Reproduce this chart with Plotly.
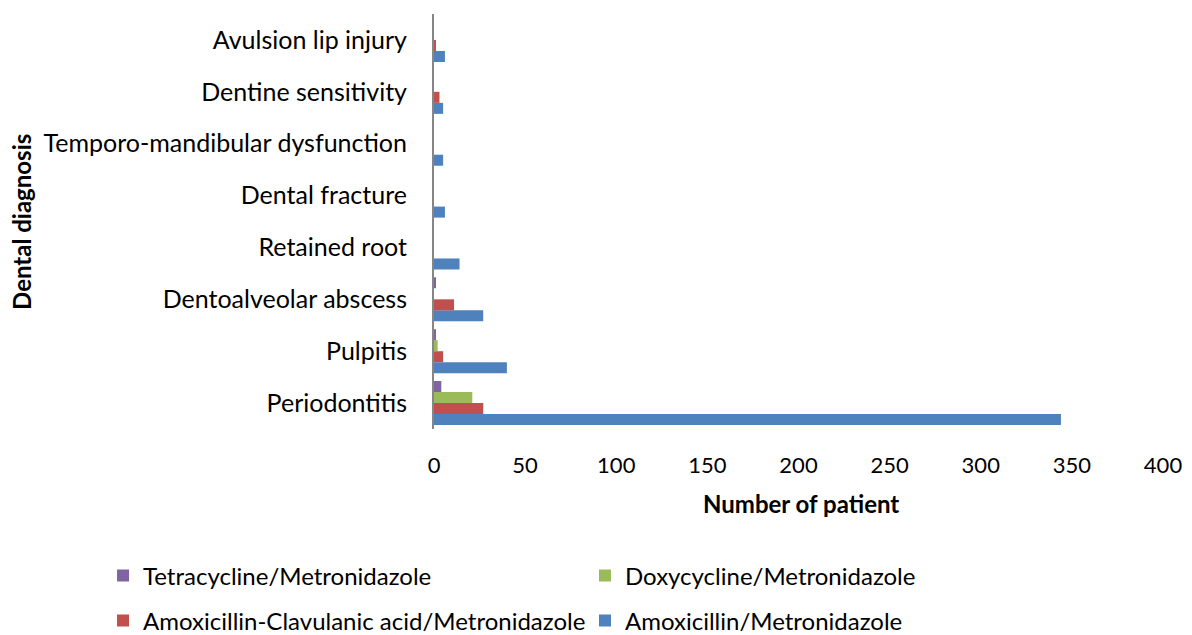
import plotly.graph_objects as go

categories = ["Periodontitis", "Pulpitis", "Dentoalveolar abscess", "Retained root",
              "Dental fracture", "Temporo-mandibular dysfunction", "Dentine sensitivity",
              "Avulsion lip injury"]
amoxicillin = [344, 40, 27, 14, 6, 5, 5, 6]
amox_clav = [27, 5, 11, 0, 0, 0, 3, 1]
doxycycline = [21, 2, 0, 0, 0, 0, 0, 0]
tetracycline = [4, 1, 1, 0, 0, 0, 0, 0]
x_ticks = [0, 50, 100, 150, 200, 250, 300, 350, 400]

FONT = "Lato"
fig = go.Figure()
series = [
    ("Amoxicillin/Metronidazole", amoxicillin, "#4F81BD", "legend5"),
    ("Amoxicillin-Clavulanic acid/Metronidazole", amox_clav, "#C0504D", "legend4"),
    ("Doxycycline/Metronidazole", doxycycline, "#9BBB59", "legend3"),
    ("Tetracycline/Metronidazole", tetracycline, "#8064A2", "legend2"),
]
for name, vals, col, lg in series:
    fig.add_trace(go.Bar(y=categories, x=vals, name=name, orientation="h",
                         marker=dict(color=col, line=dict(width=0)), legend=lg))

def leg(x, y):
    return dict(orientation="h", x=x, xanchor="left", y=y, yanchor="middle",
                font=dict(size=24), itemwidth=30, bgcolor="rgba(0,0,0,0)")

fig.update_layout(
    width=1192, height=635,
    margin=dict(l=434, r=29, t=14, b=206, autoexpand=False),
    paper_bgcolor="white", plot_bgcolor="white",
    barmode="group", bargap=0.15, bargroupgap=0,
    font=dict(family=FONT, size=24, color="black"),
    showlegend=True,
    xaxis=dict(range=[0, 400], tickvals=x_ticks, showgrid=False, zeroline=False,
               showline=False, ticklabelstandoff=21, automargin=False,
               tickfont=dict(size=22)),
    yaxis=dict(showgrid=False, zeroline=False, showline=True, linecolor="#868686",
               linewidth=2, ticks="", ticklabelstandoff=20, categoryorder="array",
               categoryarray=categories, automargin=False, tickfont=dict(size=25)),
    legend2=leg(-0.454, -0.3542),
    legend3=leg(0.2071, -0.3542),
    legend4=leg(-0.454, -0.4627),
    legend5=leg(0.2071, -0.4627),
    annotations=[
        dict(text="<b>Number of patient</b>", xref="paper", yref="paper",
             x=0.5034, y=-0.1807, xanchor="center", yanchor="middle",
             showarrow=False, font=dict(size=24)),
        dict(text="<b>Dental diagnosis</b>", xref="paper", yref="paper",
             x=-0.5652, y=0.4988, xanchor="center", yanchor="middle", textangle=-90,
             showarrow=False, font=dict(size=24)),
    ],
)
fig.write_html("out.html", config={"displayModeBar": False},
               post_script="document.body.style.margin='0';")
